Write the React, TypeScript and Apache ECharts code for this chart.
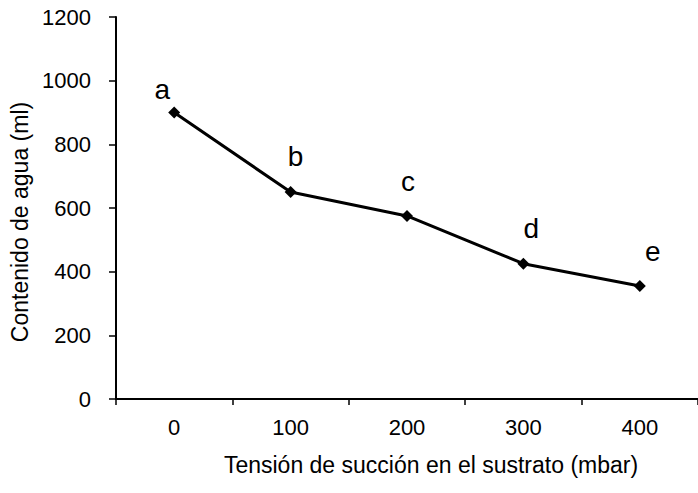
import React, { useEffect, useRef } from "react";
import * as echarts from "echarts";

// Suction tension levels (mbar) and measured water content (ml)
const tensions = ["0", "100", "200", "300", "400"];
const waterContent = [900, 650, 575, 425, 355];
const groupLetters = ["a", "b", "c", "d", "e"];

// Hand placement of each significance letter relative to its marker
const letterOffsets: [number, number][] = [
  [-12, -23],
  [5, -36],
  [1, -34],
  [8, -35],
  [13, -34],
];

const FONT = "'Liberation Sans', Arial, sans-serif";

export default function App() {
  const ref = useRef<HTMLDivElement>(null);

  useEffect(() => {
    if (!ref.current) return;
    const chart = echarts.init(ref.current, undefined, { renderer: "svg" });
    chart.setOption({
      animation: false,
      backgroundColor: "#ffffff",
      textStyle: { fontFamily: FONT, color: "#000" },
      grid: { left: 116, right: -7, top: 17, bottom: 94 },
      xAxis: {
        type: "category",
        data: tensions,
        boundaryGap: true,
        name: "Tensión de succión en el sustrato (mbar)",
        nameLocation: "middle",
        nameGap: 54,
        nameTextStyle: { fontSize: 23, color: "#000", fontFamily: FONT, padding: [0, 0, 0, 48] },
        axisLine: { lineStyle: { color: "#000", width: 2 } },
        axisTick: { show: true, length: 6, alignWithLabel: false, lineStyle: { color: "#000", width: 1.5 } },
        axisLabel: { fontSize: 22, color: "#000", margin: 17, fontFamily: FONT },
        splitLine: { show: false },
      },
      yAxis: {
        type: "value",
        min: 0,
        max: 1200,
        interval: 200,
        name: "Contenido de agua (ml)",
        nameLocation: "middle",
        nameGap: 80,
        nameTextStyle: { fontSize: 23, color: "#000", fontFamily: FONT, padding: [0, 28, 0, 0] },
        axisLine: { show: true, lineStyle: { color: "#000", width: 2 } },
        axisTick: { show: true, length: 7, lineStyle: { color: "#000", width: 1.5 } },
        axisLabel: {
          fontSize: 22,
          color: "#000",
          margin: 25,
          fontFamily: FONT,
          formatter: (v: number) => String(v),
        },
        splitLine: { show: false },
      },
      series: [
        {
          type: "line",
          data: waterContent.map((v, i) => ({
            value: v,
            label: {
              show: true,
              formatter: groupLetters[i],
              position: "inside",
              offset: letterOffsets[i],
              fontSize: 28,
              color: "#000",
              fontFamily: FONT,
            },
          })),
          symbol: "diamond",
          symbolSize: 12,
          itemStyle: { color: "#000" },
          lineStyle: { color: "#000", width: 3 },
        },
      ],
    });
    return () => chart.dispose();
  }, []);

  return <div ref={ref} style={{ width: 698, height: 493, position: "absolute", left: 0, top: 0 }} />;
}
